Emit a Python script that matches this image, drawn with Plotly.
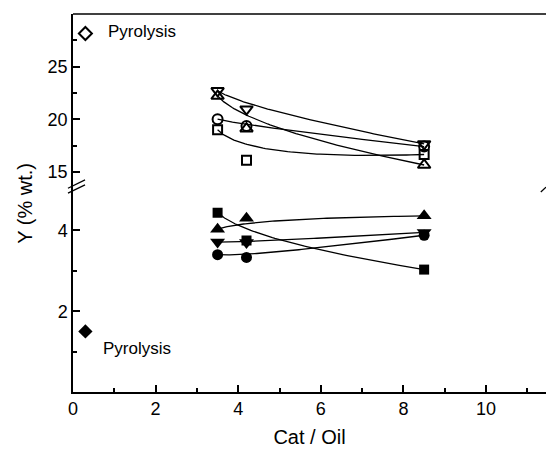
import numpy as np
import plotly.graph_objects as go

# ---- data ----
cat_oil = [3.5, 4.2, 8.5]
open_down = [22.7, 20.95, 17.65]
open_up = [22.2, 19.1, 15.65]
open_circle = [20.0, 19.35, 17.4]
open_square = [19.0, 16.1, 16.65]
fill_square = [4.44, 3.75, 3.03]
fill_up = [4.03, 4.30, 4.36]
fill_down = [3.71, 3.70, 3.95]
fill_circle = [3.40, 3.33, 3.88]
pyro_x = [0.3]
pyro_open = [28.15]
pyro_fill = [1.50]

x_ticks = [0, 2, 4, 6, 8, 10]
y_low_ticks = [2, 4]
y_high_ticks = [15, 20, 25]

FONT = "Arial, Liberation Sans, sans-serif"


def bspline(xs, ys, n=80):
    """Quadratic B-spline (Bezier) connection through 3 control points."""
    t = np.linspace(0, 1, n)
    p = np.array([xs, ys], dtype=float)
    b = ((1 - t) ** 2)[None, :] * p[:, [0]] + (2 * t * (1 - t))[None, :] * p[:, [1]] + (t ** 2)[None, :] * p[:, [2]]
    return b[0], b[1]


fig = go.Figure()

upper = [(open_down, "triangle-down-open", 11), (open_up, "triangle-up-open", 11),
         (open_circle, "circle-open", 10), (open_square, "square-open", 9)]
lower = [(fill_square, "square", 10), (fill_up, "triangle-up", 13),
         (fill_down, "triangle-down", 13), (fill_circle, "circle", 11)]

for ys, sym, sz in upper:
    bx, by = bspline(cat_oil, ys)
    fig.add_trace(go.Scatter(x=bx, y=by, mode="lines", line=dict(color="black", width=1.3),
                             yaxis="y2", hoverinfo="skip"))
for ys, sym, sz in upper:
    fig.add_trace(go.Scatter(x=cat_oil, y=ys, mode="markers", yaxis="y2",
                             marker=dict(symbol=sym, size=sz, color="black",
                                         line=dict(color="black", width=2))))
for ys, sym, sz in lower:
    bx, by = bspline(cat_oil, ys)
    fig.add_trace(go.Scatter(x=bx, y=by, mode="lines", line=dict(color="black", width=1.3),
                             yaxis="y", hoverinfo="skip"))
for ys, sym, sz in lower:
    fig.add_trace(go.Scatter(x=cat_oil, y=ys, mode="markers", yaxis="y",
                             marker=dict(symbol=sym, size=sz, color="black",
                                         line=dict(width=0))))

fig.add_trace(go.Scatter(x=pyro_x, y=pyro_open, mode="markers", yaxis="y2",
                         marker=dict(symbol="diamond-open", size=10, color="black",
                                     line=dict(color="black", width=2))))
fig.add_trace(go.Scatter(x=pyro_x, y=pyro_fill, mode="markers", yaxis="y",
                         marker=dict(symbol="diamond", size=11, color="black", line=dict(width=0))))

D = 0.544
axis_common = dict(showline=True, linecolor="black", linewidth=1.5, ticks="inside",
                   ticklen=7, tickwidth=1.5, tickcolor="black", showgrid=False,
                   zeroline=False, tickfont=dict(family=FONT, size=18, color="black"),
                   mirror=False)

fig.update_layout(
    width=546, height=453,
    margin=dict(l=73, r=0, t=14, b=61),
    paper_bgcolor="white", plot_bgcolor="white",
    showlegend=False,
    xaxis=dict(range=[0, 11.45], tickvals=x_ticks, anchor="y",
               minor=dict(ticks="inside", ticklen=4, tickwidth=1.5, tickcolor="black", dtick=1, tick0=0),
               title=dict(text="Cat / Oil", font=dict(family=FONT, size=20, color="black"), standoff=12),
               **axis_common),
    yaxis=dict(domain=[0, D], range=[0, 5.09], tickvals=y_low_ticks, anchor="x",
               minor=dict(ticks="inside", ticklen=4, tickwidth=1.5, tickcolor="black", tickvals=[1, 3]),
               **axis_common),
    yaxis2=dict(domain=[D, 1], range=[13.62, 30], tickvals=y_high_ticks, anchor="x",
                minor=dict(ticks="inside", ticklen=4, tickwidth=1.5, tickcolor="black",
                           tickvals=[17.5, 22.5, 27.5]),
                **axis_common),
)

# top frame line and axis break marks
fig.add_shape(type="line", xref="paper", yref="paper", x0=0, x1=1, y0=1, y1=1,
              line=dict(color="black", width=1.5))
for dy in (0.0, -0.013):
    fig.add_shape(type="line", xref="paper", yref="paper", x0=-0.0106, x1=0.0254,
                  y0=0.539 + dy, y1=0.561 + dy, line=dict(color="black", width=1.3))
fig.add_shape(type="line", xref="paper", yref="paper", x0=0.989, x1=1.0,
              y0=0.529, y1=0.542, line=dict(color="black", width=1.3))

fig.add_annotation(x=0.8, y=28.35, xref="x", yref="y2", text="Pyrolysis", showarrow=False,
                   xanchor="left", yanchor="middle", font=dict(family=FONT, size=17, color="black"))
fig.add_annotation(x=0.67, y=1.08, xref="x", yref="y", text="Pyrolysis", showarrow=False,
                   xanchor="left", yanchor="middle", font=dict(family=FONT, size=17, color="black"))
fig.add_annotation(x=-0.102, y=0.5, xref="paper", yref="paper", text="Y (% wt.)", showarrow=False,
                   textangle=-90, xanchor="center", yanchor="middle",
                   font=dict(family=FONT, size=20, color="black"))

fig.write_html("out.html")
